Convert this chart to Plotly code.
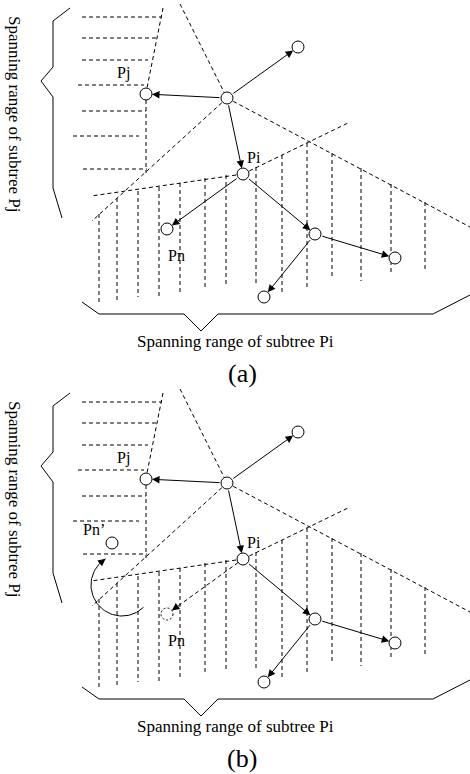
import numpy as np
import plotly.graph_objects as go

W, H = 470, 774
FONT = "Liberation Serif, Times New Roman, serif"
INK = "black"
DASH = "4px,3px"

# ---------------- data (panel coordinates, panel (a)) ----------------
panel_offsets = [0, 385]
panel_labels = ["(a)", "(b)"]

node_names = ["root", "top", "Pj", "Pi", "Pn", "c1", "c2", "c3"]
node_x = [227, 298, 146, 243, 167, 315, 395, 264]
node_y = [98, 47, 94, 174, 229, 234, 258, 297]
node_r = 6

edge_from = ["root", "root", "root", "Pi", "Pi", "c1", "c1"]
edge_to = ["Pj", "top", "Pi", "Pn", "c1", "c2", "c3"]

label_text = ["Pj", "Pi", "Pn"]
label_x = [123, 254, 176]
label_y = [73, 157, 255]

hatch_h_y = [17, 38, 60, 85, 111, 136, 169]
hatch_h_x0 = [82, 82, 82, 78, 82, 73, 83]
hatch_h_x1 = [162, 157, 148, 144, 146, 139, 147]

hatch_v_x = [99, 117, 138, 159, 180, 205, 226, 256, 282, 307, 332, 361, 391, 425]
hatch_v_top = [214, 198, 191, 187, 183, 178, 175, 167, 155, 143, 153, 168, 184, 202]
hatch_v_bot = [302, 302, 297, 297, 293, 290, 287, 285, 292, 288, 278, 281, 273, 272]

range_lines_x = [[163, 147], [146, 146], [180, 227], [227, 92], [227, 470], [243, 91], [243, 348]]
range_lines_y = [[8, 88], [100, 173], [4, 98], [98, 221], [98, 227], [174, 196], [174, 123]]

brace_pj_x = [70, 53, 53, 41, 53, 53, 62]
brace_pj_y = [8, 21, 67, 81, 97, 188, 218]
brace_pi_x = [82, 99, 184, 201, 218, 433, 470]
brace_pi_y = [302, 314, 314, 331, 314, 314, 295]

caption_pj = "Spanning range of subtree Pj"
caption_pj_pos = (15, 114)
caption_pi = "Spanning range of subtree Pi"
caption_pi_pos = (235, 341)
panel_label_pos = (242, 373)

# panel (b) extras: Pn moved to Pn'
moved_node = "Pn"
moved_x, moved_y = 112, 158
moved_label, moved_label_x, moved_label_y = "Pn\u2019", 94, 144
arc_cx, arc_cy, arc_r = 122, 200, 31
arc_t0, arc_t1 = 46, 238

# ---------------- build ----------------
fig = go.Figure()
annotations = []
shapes = []
pos = {n: (x, y) for n, x, y in zip(node_names, node_x, node_y)}


def seg_trace(xs_list, ys_list, dy, dash, width=1):
    xs, ys = [], []
    for xx, yy in zip(xs_list, ys_list):
        xs += list(xx) + [None]
        ys += [v + dy for v in yy] + [None]
    return go.Scatter(x=xs, y=ys, mode="lines", hoverinfo="skip",
                      line=dict(color=INK, width=width, dash=dash))


def arrow(x0, y0, x1, y1, s0, s1):
    annotations.append(dict(x=x1, y=y1, ax=x0, ay=y0, xref="x", yref="y",
                            axref="x", ayref="y", text="", showarrow=True,
                            arrowhead=2, arrowsize=1.5, arrowwidth=1,
                            arrowcolor=INK, standoff=s1, startstandoff=s0))


def text(t, x, y, size=16, angle=0):
    annotations.append(dict(x=x, y=y, xref="x", yref="y", text=t, showarrow=False,
                            textangle=angle, font=dict(family=FONT, size=size, color=INK),
                            xanchor="center", yanchor="middle"))


for k, dy in enumerate(panel_offsets):
    # hatching
    fig.add_trace(seg_trace([[a, b] for a, b in zip(hatch_h_x0, hatch_h_x1)],
                            [[y, y] for y in hatch_h_y], dy, DASH))
    fig.add_trace(seg_trace([[x, x] for x in hatch_v_x],
                            [[t, b] for t, b in zip(hatch_v_top, hatch_v_bot)], dy, DASH))
    # range boundaries
    fig.add_trace(seg_trace(range_lines_x, range_lines_y, dy, DASH))
    # braces
    fig.add_trace(seg_trace([brace_pj_x, brace_pi_x], [brace_pj_y, brace_pi_y], dy, None))

    # edges
    for a, b in zip(edge_from, edge_to):
        (x0, y0), (x1, y1) = pos[a], pos[b]
        if k == 1 and b == moved_node:
            u = np.array([x1 - x0, y1 - y0], float)
            u /= np.hypot(*u)
            p0 = np.array([x0, y0 + dy]) + u * node_r
            p1 = np.array([x1, y1 + dy]) - u * node_r
            fig.add_trace(go.Scatter(x=[p0[0], p1[0]], y=[p0[1], p1[1]], mode="lines",
                                     hoverinfo="skip", line=dict(color=INK, width=1, dash=DASH)))
            q = np.array([x1, y1 + dy]) - u * (node_r + 7)
            arrow(q[0], q[1], x1, y1 + dy, 0, node_r)
        else:
            arrow(x0, y0 + dy, x1, y1 + dy, node_r, node_r)

    # nodes
    names = [n for n in node_names if not (k == 1 and n == moved_node)]
    nx = [pos[n][0] for n in names]
    ny = [pos[n][1] + dy for n in names]
    if k == 1:
        nx.append(moved_x)
        ny.append(moved_y + dy)
    fig.add_trace(go.Scatter(x=nx, y=ny, mode="markers", hoverinfo="skip",
                             marker=dict(symbol="circle", size=2 * node_r, color="white",
                                         line=dict(color=INK, width=1))))
    if k == 1:
        mx, my = pos[moved_node]
        shapes.append(dict(type="circle", xref="x", yref="y",
                           x0=mx - node_r, x1=mx + node_r, y0=my + dy - node_r, y1=my + dy + node_r,
                           line=dict(color=INK, width=1, dash="2px,2px"), fillcolor="white", layer="above"))
        t = np.radians(np.linspace(arc_t0, arc_t1, 60))
        ax_ = arc_cx + arc_r * np.cos(t)
        ay_ = arc_cy + dy + arc_r * np.sin(t)
        fig.add_trace(go.Scatter(x=ax_, y=ay_, mode="lines", hoverinfo="skip",
                                 line=dict(color=INK, width=1)))
        arrow(ax_[-5], ay_[-5], ax_[-1], ay_[-1], 0, 0)
        text(moved_label, moved_label_x, moved_label_y + dy)

    # labels
    for t_, x_, y_ in zip(label_text, label_x, label_y):
        text(t_, x_, y_ + dy)
    text(caption_pj, caption_pj_pos[0], caption_pj_pos[1] + dy, size=17, angle=90)
    text(caption_pi, caption_pi_pos[0], caption_pi_pos[1] + dy, size=17)
    text(panel_labels[k], panel_label_pos[0], panel_label_pos[1] + dy, size=26)

fig.update_layout(
    width=W, height=H, margin=dict(l=0, r=0, t=0, b=0, pad=0),
    paper_bgcolor="white", plot_bgcolor="white", showlegend=False,
    xaxis=dict(range=[0, W], visible=False, fixedrange=True),
    yaxis=dict(range=[H, 0], visible=False, fixedrange=True),
    annotations=annotations, shapes=shapes,
)

fig.write_html("out.html", config={"displayModeBar": False},
               post_script="document.body.style.margin='0';")
